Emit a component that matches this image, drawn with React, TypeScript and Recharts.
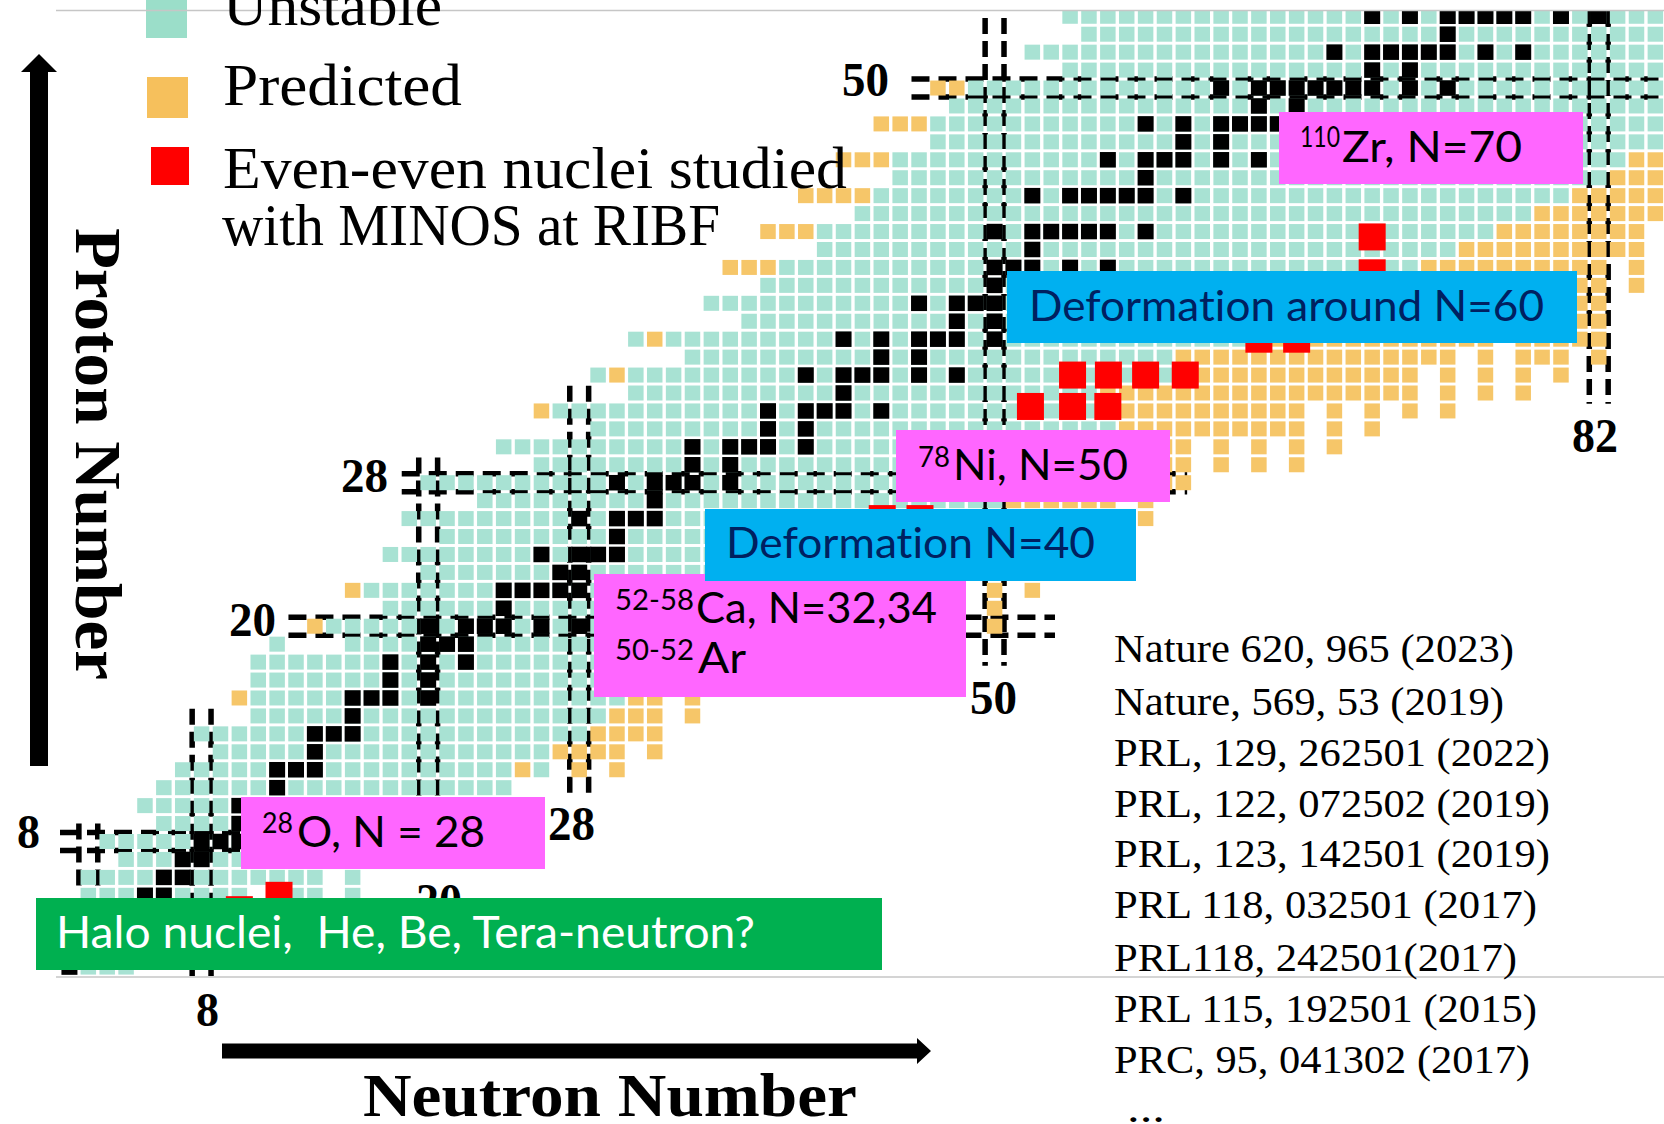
import React from "react";
import { ScatterChart, Scatter, XAxis, YAxis, ReferenceLine } from "recharts";

// [proton number, first neutron number, last neutron number]
type Run = [number, number, number];

const unstableRuns: Run[] = [
  [1, 2, 4], [5, 2, 10], [5, 13, 14], [5, 16, 16], [6, 2, 14], [6, 16, 16],
  [7, 4, 20], [8, 3, 24], [9, 6, 24], [10, 5, 24], [11, 6, 24],
  [12, 7, 24], [12, 26, 26], [13, 9, 26], [14, 8, 28], [15, 11, 29], [16, 11, 30],
  [17, 11, 31], [18, 11, 32], [19, 12, 12], [19, 16, 33], [20, 15, 34], [21, 18, 35],
  [22, 17, 36], [23, 20, 37], [24, 18, 40], [25, 21, 43], [26, 19, 50], [27, 23, 50],
  [28, 20, 50], [29, 26, 53], [30, 24, 54], [31, 29, 56], [32, 27, 56], [33, 31, 55],
  [34, 29, 29], [34, 31, 59], [35, 34, 59], [36, 31, 31], [36, 33, 64], [37, 37, 66],
  [38, 35, 68], [39, 38, 70], [40, 39, 72], [41, 41, 74], [42, 41, 76], [43, 43, 78],
  [44, 44, 80], [45, 45, 82], [46, 45, 83], [47, 47, 85], [48, 47, 85], [49, 48, 85],
  [50, 49, 85], [51, 54, 85], [52, 52, 85], [53, 55, 85], [54, 54, 85],
];

const predictedRuns: Run[] = [
  [12, 25, 25], [12, 28, 28], [12, 30, 30], [13, 27, 30], [13, 32, 32], [14, 29, 32],
  [15, 30, 32], [15, 34, 34], [16, 10, 10], [16, 31, 32], [16, 34, 34],
  [20, 14, 14], [20, 50, 50], [21, 50, 50], [22, 16, 16], [22, 50, 50], [22, 52, 52],
  [26, 51, 58], [27, 51, 56], [27, 58, 58], [28, 51, 60],
  [29, 54, 60], [29, 62, 62], [29, 64, 64], [29, 66, 66],
  [30, 55, 60], [30, 62, 62], [30, 64, 64], [30, 66, 66], [30, 68, 68],
  [31, 57, 66], [31, 68, 68], [31, 70, 70],
  [32, 26, 26], [32, 57, 66], [32, 68, 68], [32, 70, 70], [32, 72, 72], [32, 74, 74],
  [33, 56, 72], [33, 74, 74], [33, 76, 76], [33, 78, 78],
  [34, 30, 30], [34, 60, 72], [34, 74, 74], [34, 76, 76], [34, 78, 78], [34, 80, 80],
  [35, 60, 74], [35, 76, 76], [35, 78, 80], [35, 82, 82],
  [36, 32, 32], [36, 65, 76], [36, 78, 82], [37, 67, 82], [38, 69, 82],
  [39, 71, 82], [39, 84, 84], [40, 36, 38], [40, 73, 82], [40, 84, 84],
  [41, 75, 84], [42, 38, 40], [42, 77, 84], [43, 79, 85], [44, 40, 43], [44, 81, 85],
  [45, 83, 85], [46, 42, 44], [46, 84, 85], [48, 44, 46], [50, 47, 48],
];

// [proton number, neutron numbers of the stable isotopes]
const stableIsotopes: [number, number[]][] = [
  [1, [1]], [5, [5, 6]], [6, [6, 7]], [7, [7, 8]], [8, [8, 9, 10]], [9, [10]],
  [10, [10, 11, 12]], [11, [12]], [12, [12, 13, 14]], [13, [14]], [14, [14, 15, 16]],
  [15, [16]], [16, [16, 17, 18, 20]], [17, [18, 20]], [18, [18, 20, 22]], [19, [20, 21, 22]],
  [20, [20, 22, 23, 24, 26, 28]], [21, [24]], [22, [24, 25, 26, 27, 28]], [23, [27, 28]],
  [24, [26, 28, 29, 30]], [25, [30]], [26, [28, 30, 31, 32]], [27, [32]],
  [28, [30, 32, 33, 34, 36]], [29, [34, 36]], [30, [34, 36, 37, 38, 40]], [31, [38, 40]],
  [32, [38, 40, 41, 42, 44]], [33, [42]], [34, [40, 42, 43, 44, 46, 48]], [35, [44, 46]],
  [36, [42, 44, 46, 47, 48, 50]], [37, [48, 50]], [38, [46, 48, 49, 50]], [39, [50]],
  [40, [50, 51, 52, 54, 56]], [41, [52]], [42, [50, 52, 53, 54, 55, 56, 58]],
  [44, [52, 54, 55, 56, 57, 58, 60]], [45, [58]], [46, [56, 58, 59, 60, 62, 64]], [47, [60, 62]],
  [48, [58, 60, 62, 63, 64, 65, 66, 68]], [49, [64, 66]],
  [50, [62, 64, 65, 66, 67, 68, 69, 70, 72, 74]], [51, [70, 72]],
  [52, [68, 70, 71, 72, 73, 74, 76, 78]], [53, [74]], [54, [70, 72, 74, 75, 76, 77, 78, 80, 82]],
];

// the red squares sit slightly off the grid in the picture
const studiedNuclei = [
  { n: 10, z: 4.2 }, { n: 12.1, z: 5 }, { n: 44.05, z: 26 }, { n: 46.05, z: 26 },
  { n: 51.9, z: 32.25 }, { n: 54.13, z: 32.25 }, { n: 56, z: 32.25 },
  { n: 54.13, z: 34 }, { n: 56.03, z: 34 }, { n: 58, z: 34 }, { n: 60.1, z: 34 },
  { n: 64, z: 36 }, { n: 66, z: 36 }, { n: 70, z: 39.7 }, { n: 70, z: 41.7 },
];

// [magic number, start, end] for the double dashed channels
const protonChannels: Run[] = [[8, 0.5, 26], [20, 12.6, 53.2], [28, 18.6, 60.2], [50, 45.6, 85.4]];
const neutronChannels: Run[] = [[2, 5.2, 9], [8, 0.5, 15.4], [20, 6.4, 29.4], [28, 10.4, 33.4], [50, 17.8, 53.9], [82, 32.4, 54.3]];

const references = [
  "Nature 620, 965 (2023)",
  "Nature, 569, 53 (2019)",
  "PRL, 129, 262501 (2022)",
  "PRL, 122, 072502 (2019)",
  "PRL, 123, 142501 (2019)",
  "PRL 118, 032501 (2017)",
  "PRL118, 242501(2017)",
  "PRL 115, 192501 (2015)",
  "PRC, 95, 041302 (2017)",
];
const referenceBaselines = [662, 715, 766, 817, 867, 918, 971, 1022, 1073];
const referenceWidths = [400, 390, 436, 436, 436, 423, 403, 423, 416];

const neutronDomain = [-2.678, 85.457];
const protonDomain = [-7.747, 54.907];

const TEAL = "#a8e2d3";
const ORANGE = "#f6c669";
const COMIC = "Lato, 'Noto Sans', sans-serif";
const SERIF = "'Liberation Serif', serif";

const fromRuns = (runs: Run[]) =>
  runs.flatMap(([z, first, last]) => {
    const cells: { n: number; z: number }[] = [];
    for (let n = first; n <= last; n++) cells.push({ n, z });
    return cells;
  });

const unstableCells = fromRuns(unstableRuns);
const predictedCells = fromRuns(predictedRuns);
const stableCells = stableIsotopes.flatMap(([z, ns]) => ns.map((n) => ({ n, z })));

const cell = (fill: string, w: number, h: number) => (props: any) =>
  <rect x={props.cx - w / 2} y={props.cy - h / 2} width={w} height={h} fill={fill} />;

function T({ x, y, w, size, fill = "#000", bold, font = SERIF, children, transform }: any) {
  return (
    <text x={x} y={y} fontSize={size} fill={fill} fontFamily={font} fontWeight={bold ? 700 : 400}
      textLength={w} lengthAdjust="spacingAndGlyphs" transform={transform}
      style={{ fontVariantLigatures: "none" }}>
      {children}
    </text>
  );
}

export default function App() {
  return (
    <div style={{ position: "absolute", left: 0, top: 0, width: 1664, height: 1124, background: "#fff", overflow: "hidden" }}>
      <ScatterChart width={1664} height={1124} margin={{ top: 0, right: 0, bottom: 0, left: 0 }}>
        <XAxis type="number" dataKey="n" domain={neutronDomain} hide allowDataOverflow />
        <YAxis type="number" dataKey="z" domain={protonDomain} hide allowDataOverflow />
        <Scatter data={unstableCells} shape={cell(TEAL, 15.5, 15)} isAnimationActive={false} />
        <Scatter data={predictedCells} shape={cell(ORANGE, 15.5, 15)} isAnimationActive={false} />
        <Scatter data={stableCells} shape={cell("#000", 16, 15.5)} isAnimationActive={false} />
        {protonChannels.flatMap(([z, a, b]) => [z - 0.5, z + 0.5].map((y) => (
          <ReferenceLine key={`z${y}`} segment={[{ x: a, y }, { x: b, y }]} stroke="#000" strokeWidth={5.5} strokeDasharray="18 9" ifOverflow="visible" />
        )))}
        {neutronChannels.flatMap(([n, a, b]) => [n - 0.5, n + 0.5].map((x) => (
          <ReferenceLine key={`n${x}`} segment={[{ x, y: b }, { x, y: a }]} stroke="#000" strokeWidth={5.5} strokeDasharray="16 7" ifOverflow="visible" />
        )))}
        <Scatter data={studiedNuclei} shape={cell("#ff0000", 27, 27)} isAnimationActive={false} />
      </ScatterChart>

      <svg width={1664} height={1124} style={{ position: "absolute", left: 0, top: 0 }}>
        <rect x={0} y={0} width={1664} height={10} fill="#fff" />
        <rect x={146} y={0} width={41} height={38} fill="#9bdec9" />
        <rect x={147} y={77} width={41} height={41} fill="#f6c05c" />
        <rect x={151} y={147} width={38} height={38} fill="#ff0000" />
        <line x1={56} x2={1664} y1={10.5} y2={10.5} stroke="#c6c6c6" strokeWidth={1.5} />
        <line x1={56} x2={1664} y1={977} y2={977} stroke="#c6c6c6" strokeWidth={1.5} />

        <T x={223} y={25} w={219} size={60}>Unstable</T>
        <T x={223} y={105} w={239} size={60}>Predicted</T>
        <T x={223} y={188} w={624} size={60}>Even-even nuclei studied</T>
        <T x={222} y={245} w={498} size={60}>with MINOS at RIBF</T>

        <path d="M30 766 V72 H21 L39 54 L57 72 H48 V766 Z" fill="#000" />
        <path d="M222 1043.5 H917 V1038 L931 1051 L917 1064 V1058.5 H222 Z" fill="#000" />
        <T x={76} y={228} w={452} size={65} bold transform="rotate(90 76 228)">Proton Number</T>
        <T x={363} y={1116} w={494} size={62} bold>Neutron Number</T>

        <T x={17} y={848} w={23} size={48} bold>8</T>
        <T x={229} y={636} w={47} size={48} bold>20</T>
        <T x={341} y={492} w={47} size={48} bold>28</T>
        <T x={842} y={96} w={47} size={48} bold>50</T>
        <T x={196} y={1026} w={23} size={48} bold>8</T>
        <T x={416} y={917} w={46} size={48} bold>20</T>
        <T x={548} y={840} w={47} size={48} bold>28</T>
        <T x={970} y={714} w={47} size={48} bold>50</T>
        <T x={1572} y={452} w={46} size={48} bold>82</T>

        {references.map((r, i) => (
          <T key={r} x={1114} y={referenceBaselines[i]} w={referenceWidths[i]} size={41}>{r}</T>
        ))}
        <T x={1127} y={1122} w={38} size={40}>...</T>

        <rect x={36} y={898} width={846} height={72} fill="#00b050" />
        <T x={56} y={948} w={699} size={44} fill="#fff" font={COMIC}>{"Halo nuclei,\u00a0\u00a0He, Be, Tera-neutron?"}</T>

        <rect x={241} y={797} width={304} height={72} fill="#ff66ff" />
        <T x={262} y={833} w={31} size={29} font={COMIC}>28</T>
        <T x={297} y={847} w={188} size={43} font={COMIC}>O, N = 28</T>

        <rect x={594} y={574} width={372} height={123} fill="#ff66ff" />
        <T x={615} y={610} w={79} size={29} font={COMIC}>52-58</T>
        <T x={696} y={623} w={241} size={43} font={COMIC}>Ca, N=32,34</T>
        <T x={615} y={660} w={79} size={29} font={COMIC}>50-52</T>
        <T x={698} y={673} w={48} size={43} font={COMIC}>Ar</T>

        <rect x={705} y={509} width={431} height={72} fill="#00b0f0" />
        <T x={726} y={558} w={369} size={43} fill="#002060" font={COMIC}>Deformation N=40</T>

        <rect x={896} y={430} width={274} height={72} fill="#ff66ff" />
        <T x={918} y={467} w={32} size={29} font={COMIC}>78</T>
        <T x={953} y={480} w={175} size={43} font={COMIC}>Ni, N=50</T>

        <rect x={1007} y={271} width={570} height={72} fill="#00b0f0" />
        <T x={1029} y={321} w={515} size={43} fill="#002060" font={COMIC}>Deformation around N=60</T>

        <rect x={1279} y={112} width={304} height={72} fill="#ff66ff" />
        <T x={1300} y={147} w={40} size={29} font={COMIC}>110</T>
        <T x={1342} y={162} w={180} size={43} font={COMIC}>Zr, N=70</T>
      </svg>
    </div>
  );
}
